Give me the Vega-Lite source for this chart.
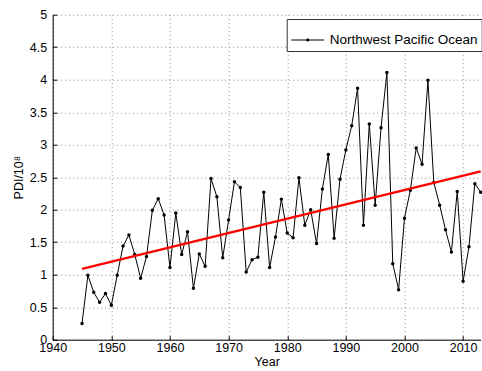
{
  "$schema": "https://vega.github.io/schema/vega-lite/v6.json",
  "width": 428,
  "height": 325,
  "autosize": {"type": "none"},
  "padding": {"left": 52.7, "top": 14.7, "right": 1.3, "bottom": 31.3},
  "background": "white",
  "config": {
    "view": {"stroke": null},
    "font": "Liberation Sans",
    "axis": {
      "labelFont": "Liberation Sans",
      "titleFont": "Liberation Sans",
      "labelFontSize": 12.5,
      "titleFontSize": 12.5,
      "labelColor": "black",
      "titleColor": "black",
      "titleFontWeight": "normal",
      "domainColor": "black",
      "tickColor": "black",
      "gridColor": "#8a8a8a",
      "gridDash": [1, 3],
      "gridOpacity": 1,
      "gridWidth": 1
    }
  },
  "datasets": {
    "pdi": [
      {"year": 1945, "pdi": 0.25}, {"year": 1946, "pdi": 0.99}, {"year": 1947, "pdi": 0.73},
      {"year": 1948, "pdi": 0.575}, {"year": 1949, "pdi": 0.71}, {"year": 1950, "pdi": 0.53},
      {"year": 1951, "pdi": 0.99}, {"year": 1952, "pdi": 1.44}, {"year": 1953, "pdi": 1.61},
      {"year": 1954, "pdi": 1.31}, {"year": 1955, "pdi": 0.945}, {"year": 1956, "pdi": 1.28},
      {"year": 1957, "pdi": 1.99}, {"year": 1958, "pdi": 2.17}, {"year": 1959, "pdi": 1.92},
      {"year": 1960, "pdi": 1.11}, {"year": 1961, "pdi": 1.95}, {"year": 1962, "pdi": 1.31},
      {"year": 1963, "pdi": 1.66}, {"year": 1964, "pdi": 0.79}, {"year": 1965, "pdi": 1.32},
      {"year": 1966, "pdi": 1.13}, {"year": 1967, "pdi": 2.48}, {"year": 1968, "pdi": 2.2},
      {"year": 1969, "pdi": 1.26}, {"year": 1970, "pdi": 1.84}, {"year": 1971, "pdi": 2.43},
      {"year": 1972, "pdi": 2.34}, {"year": 1973, "pdi": 1.04}, {"year": 1974, "pdi": 1.23},
      {"year": 1975, "pdi": 1.27}, {"year": 1976, "pdi": 2.27}, {"year": 1977, "pdi": 1.11},
      {"year": 1978, "pdi": 1.58}, {"year": 1979, "pdi": 2.16}, {"year": 1980, "pdi": 1.64},
      {"year": 1981, "pdi": 1.57}, {"year": 1982, "pdi": 2.49}, {"year": 1983, "pdi": 1.76},
      {"year": 1984, "pdi": 2.0}, {"year": 1985, "pdi": 1.48}, {"year": 1986, "pdi": 2.32},
      {"year": 1987, "pdi": 2.85}, {"year": 1988, "pdi": 1.56}, {"year": 1989, "pdi": 2.47},
      {"year": 1990, "pdi": 2.92}, {"year": 1991, "pdi": 3.29}, {"year": 1992, "pdi": 3.87},
      {"year": 1993, "pdi": 1.76}, {"year": 1994, "pdi": 3.32}, {"year": 1995, "pdi": 2.07},
      {"year": 1996, "pdi": 3.26}, {"year": 1997, "pdi": 4.11}, {"year": 1998, "pdi": 1.17},
      {"year": 1999, "pdi": 0.77}, {"year": 2000, "pdi": 1.87}, {"year": 2001, "pdi": 2.3},
      {"year": 2002, "pdi": 2.95}, {"year": 2003, "pdi": 2.7}, {"year": 2004, "pdi": 3.99},
      {"year": 2005, "pdi": 2.42}, {"year": 2006, "pdi": 2.07}, {"year": 2007, "pdi": 1.69},
      {"year": 2008, "pdi": 1.35}, {"year": 2009, "pdi": 2.28}, {"year": 2010, "pdi": 0.9},
      {"year": 2011, "pdi": 1.43}, {"year": 2012, "pdi": 2.4}, {"year": 2013, "pdi": 2.27}
    ],
    "trend": [
      {"year": 1945, "pdi": 1.09},
      {"year": 2013, "pdi": 2.59}
    ]
  },
  "encoding": {
    "x": {
      "field": "year",
      "type": "quantitative",
      "scale": {"domain": [1940, 2013], "nice": false, "zero": false},
      "axis": {
        "title": "Year",
        "values": [1940, 1950, 1960, 1970, 1980, 1990, 2000, 2010],
        "format": "d",
        "tickSize": -4,
        "labelPadding": 6,
        "titlePadding": 1,
        "labelFlush": false
      }
    },
    "y": {
      "field": "pdi",
      "type": "quantitative",
      "scale": {"domain": [0, 5], "nice": false},
      "axis": {
        "title": "PDI/10⁸",
        "values": [0, 0.5, 1, 1.5, 2, 2.5, 3, 3.5, 4, 4.5, 5],
        "format": "~g",
        "tickSize": -4,
        "labelPadding": 10,
        "titlePadding": 4
      }
    }
  },
  "layer": [
    {
      "data": {"name": "pdi"},
      "mark": {
        "type": "line",
        "strokeWidth": 1,
        "point": {"filled": true, "size": 12, "color": "black"}
      },
      "encoding": {
        "color": {
          "datum": "Northwest Pacific Ocean",
          "type": "nominal",
          "scale": {"range": ["black"]},
          "legend": {
            "title": null,
            "orient": "none",
            "legendX": 234,
            "legendY": 4.3,
            "direction": "vertical",
            "fillColor": "white",
            "strokeColor": "#333",
            "padding": 4,
            "labelFont": "Liberation Sans",
            "labelFontSize": 13.5,
            "labelColor": "black",
            "labelOffset": 5,
            "symbolType": "M-1,0H1M-0.07,0a0.07,0.07 0 1,0 0.14,0a0.07,0.07 0 1,0 -0.14,0",
            "symbolSize": 1089,
            "symbolStrokeWidth": 1,
            "symbolStrokeColor": "black",
            "symbolFillColor": "black"
          }
        }
      }
    },
    {
      "data": {"name": "trend"},
      "mark": {"type": "line", "color": "#ff0000", "strokeWidth": 2.5},
      "encoding": {}
    }
  ]
}
